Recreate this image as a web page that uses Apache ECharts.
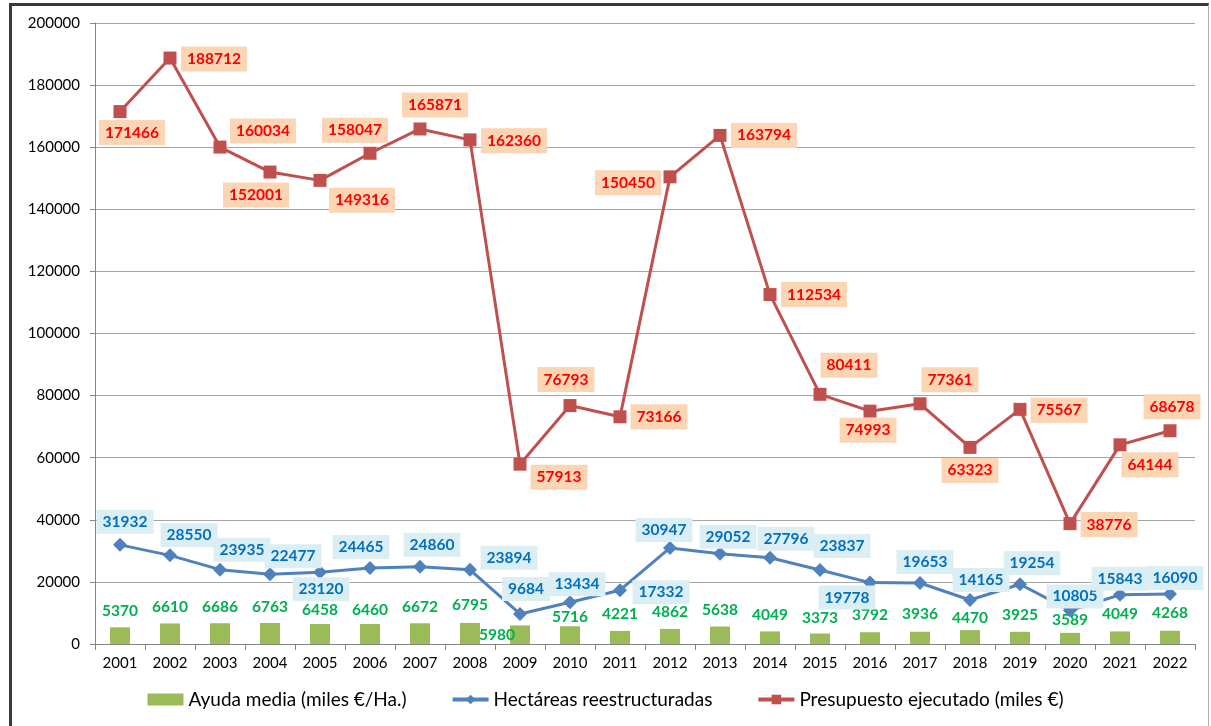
<!DOCTYPE html>
<html>
<head>
<meta charset="utf-8">
<script src="https://cdn.jsdelivr.net/npm/echarts@6/dist/echarts.min.js"></script>
<style>
  html, body { margin: 0; padding: 0; background: #fff; }
  #chart { position: absolute; left: 0; top: 0; width: 1211px; height: 726px; }
  #frame { position: absolute; left: 9px; top: 3px; width: 1196px; height: 800px;
           border-top: 3px solid #3a3a3a; border-left: 3px solid #3a3a3a; border-right: 1px solid #b0b0b0;
           pointer-events: none; }
</style>
</head>
<body>
<div id="chart"></div>
<div id="frame"></div>
<script>
// ---- data ----
const years = ['2001','2002','2003','2004','2005','2006','2007','2008','2009','2010','2011','2012','2013','2014','2015','2016','2017','2018','2019','2020','2021','2022'];
const ayudaMedia = [5370, 6610, 6686, 6763, 6458, 6460, 6672, 6795, 5980, 5716, 4221, 4862, 5638, 4049, 3373, 3792, 3936, 4470, 3925, 3589, 4049, 4268];
const hectareas = [31932, 28550, 23935, 22477, 23120, 24465, 24860, 23894, 9684, 13434, 17332, 30947, 29052, 27796, 23837, 19778, 19653, 14165, 19254, 10805, 15843, 16090];
const presupuesto = [171466, 188712, 160034, 152001, 149316, 158047, 165871, 162360, 57913, 76793, 73166, 150450, 163794, 112534, 80411, 74993, 77361, 63323, 75567, 38776, 64144, 68678];
const yTicks = { min: 0, max: 200000, interval: 20000 };
const seriesNames = ['Ayuda media (miles €/Ha.)', 'Hectáreas reestructuradas', 'Presupuesto ejecutado (miles €)'];

// ---- label placement (pixel offsets from the mark) ----
const redOffsets = [[12,21],[44,1],[43,-16],[-14,23],[42,20],[-15,-23],[15,-24],[44,1],[39,13],[-4,-26],[39,0],[-42,6],[44,0],[44,0],[29,-29],[-2,19],[30,-24],[0,23],[39,1],[39,1],[30,20],[2,-24]];
const blueOffsets = [[5,-23],[19,-20],[22,-20],[23,-18],[1,17],[-9,-21],[12,-22],[39,-12],[6,-25],[7,-18],[41,2],[-6,-18],[8,-17],[16,-19],[22,-24],[-23,15],[5,-21],[11,-20],[12,-21],[5,-14],[0,-16],[5,-16]];
const greenGap = [16,16,16,16,14,14,16,18,-10,9,17,17,16,16,16,17,18,12,17,13,17,18];
const greenDx = [0,0,0,0,0,0,0,0,-23,0,0,0,0,0,0,0,0,0,0,0,0,0];

const FONT = 'Lato';
const chart = echarts.init(document.getElementById('chart'), null, { renderer: 'canvas' });

const barData = ayudaMedia.map((v, i) => ({
  value: v,
  label: { offset: [greenDx[i], 9 - greenGap[i]] }
}));
const blueData = hectareas.map((v, i) => ({
  value: v,
  label: { offset: blueOffsets[i] }
}));
const redData = presupuesto.map((v, i) => ({
  value: v,
  label: { offset: redOffsets[i] }
}));

chart.setOption({
  backgroundColor: 'transparent',
  animation: false,
  textStyle: { fontFamily: FONT },
  grid: { left: 95, right: 16, top: 23, bottom: 82, containLabel: false },
  legend: {
    bottom: 12,
    left: 'center',
    itemGap: 44,
    itemWidth: 36,
    itemHeight: 12,
    textStyle: { fontFamily: FONT, fontSize: 19, color: '#000' },
    data: [
      { name: seriesNames[0], icon: 'rect' },
      { name: seriesNames[1], lineStyle: { width: 4 } },
      { name: seriesNames[2], lineStyle: { width: 4 } }
    ]
  },
  xAxis: {
    type: 'category',
    data: years,
    boundaryGap: true,
    axisLine: { show: true, lineStyle: { color: '#868686', width: 1 } },
    axisTick: { show: true, alignWithLabel: false, length: 6, lineStyle: { color: '#868686' } },
    axisLabel: { color: '#000', fontSize: 15, fontFamily: FONT, margin: 12 },
    splitLine: { show: false }
  },
  yAxis: {
    type: 'value',
    min: yTicks.min, max: yTicks.max, interval: yTicks.interval,
    axisLine: { show: true, lineStyle: { color: '#868686', width: 1 } },
    axisTick: { show: true, length: 5, lineStyle: { color: '#868686' } },
    axisLabel: { color: '#000', fontSize: 15, fontFamily: FONT, margin: 15, formatter: (v) => String(v) },
    splitLine: { show: true, lineStyle: { color: '#a6a6a6', width: 1 } }
  },
  series: [
    {
      name: seriesNames[0],
      type: 'bar',
      data: barData,
      barWidth: 20,
      itemStyle: { color: '#9BBB59' },
      z: 2,
      label: {
        show: true, position: 'top', distance: 0,
        color: '#00B050', fontWeight: 'bold', fontSize: 15.5, fontFamily: FONT, lineHeight: 18
      }
    },
    {
      name: seriesNames[1],
      type: 'line',
      data: blueData,
      symbol: 'diamond',
      symbolSize: 14,
      lineStyle: { color: '#4F81BD', width: 3 },
      itemStyle: { color: '#4F81BD' },
      z: 3,
      label: {
        show: true, position: 'inside',
        color: '#0070C0', fontWeight: 'bold', fontSize: 15.5, fontFamily: FONT, lineHeight: 18,
        backgroundColor: '#DBEEF4', padding: [3, 6]
      }
    },
    {
      name: seriesNames[2],
      type: 'line',
      data: redData,
      symbol: 'rect',
      symbolSize: 13,
      lineStyle: { color: '#C0504D', width: 3 },
      itemStyle: { color: '#C0504D' },
      z: 4,
      label: {
        show: true, position: 'inside',
        color: '#FF0000', fontWeight: 'bold', fontSize: 15.5, fontFamily: FONT, lineHeight: 18,
        backgroundColor: '#FCD5B5', padding: [4, 6, 3, 6]
      }
    }
  ]
});
</script>
</body>
</html>
